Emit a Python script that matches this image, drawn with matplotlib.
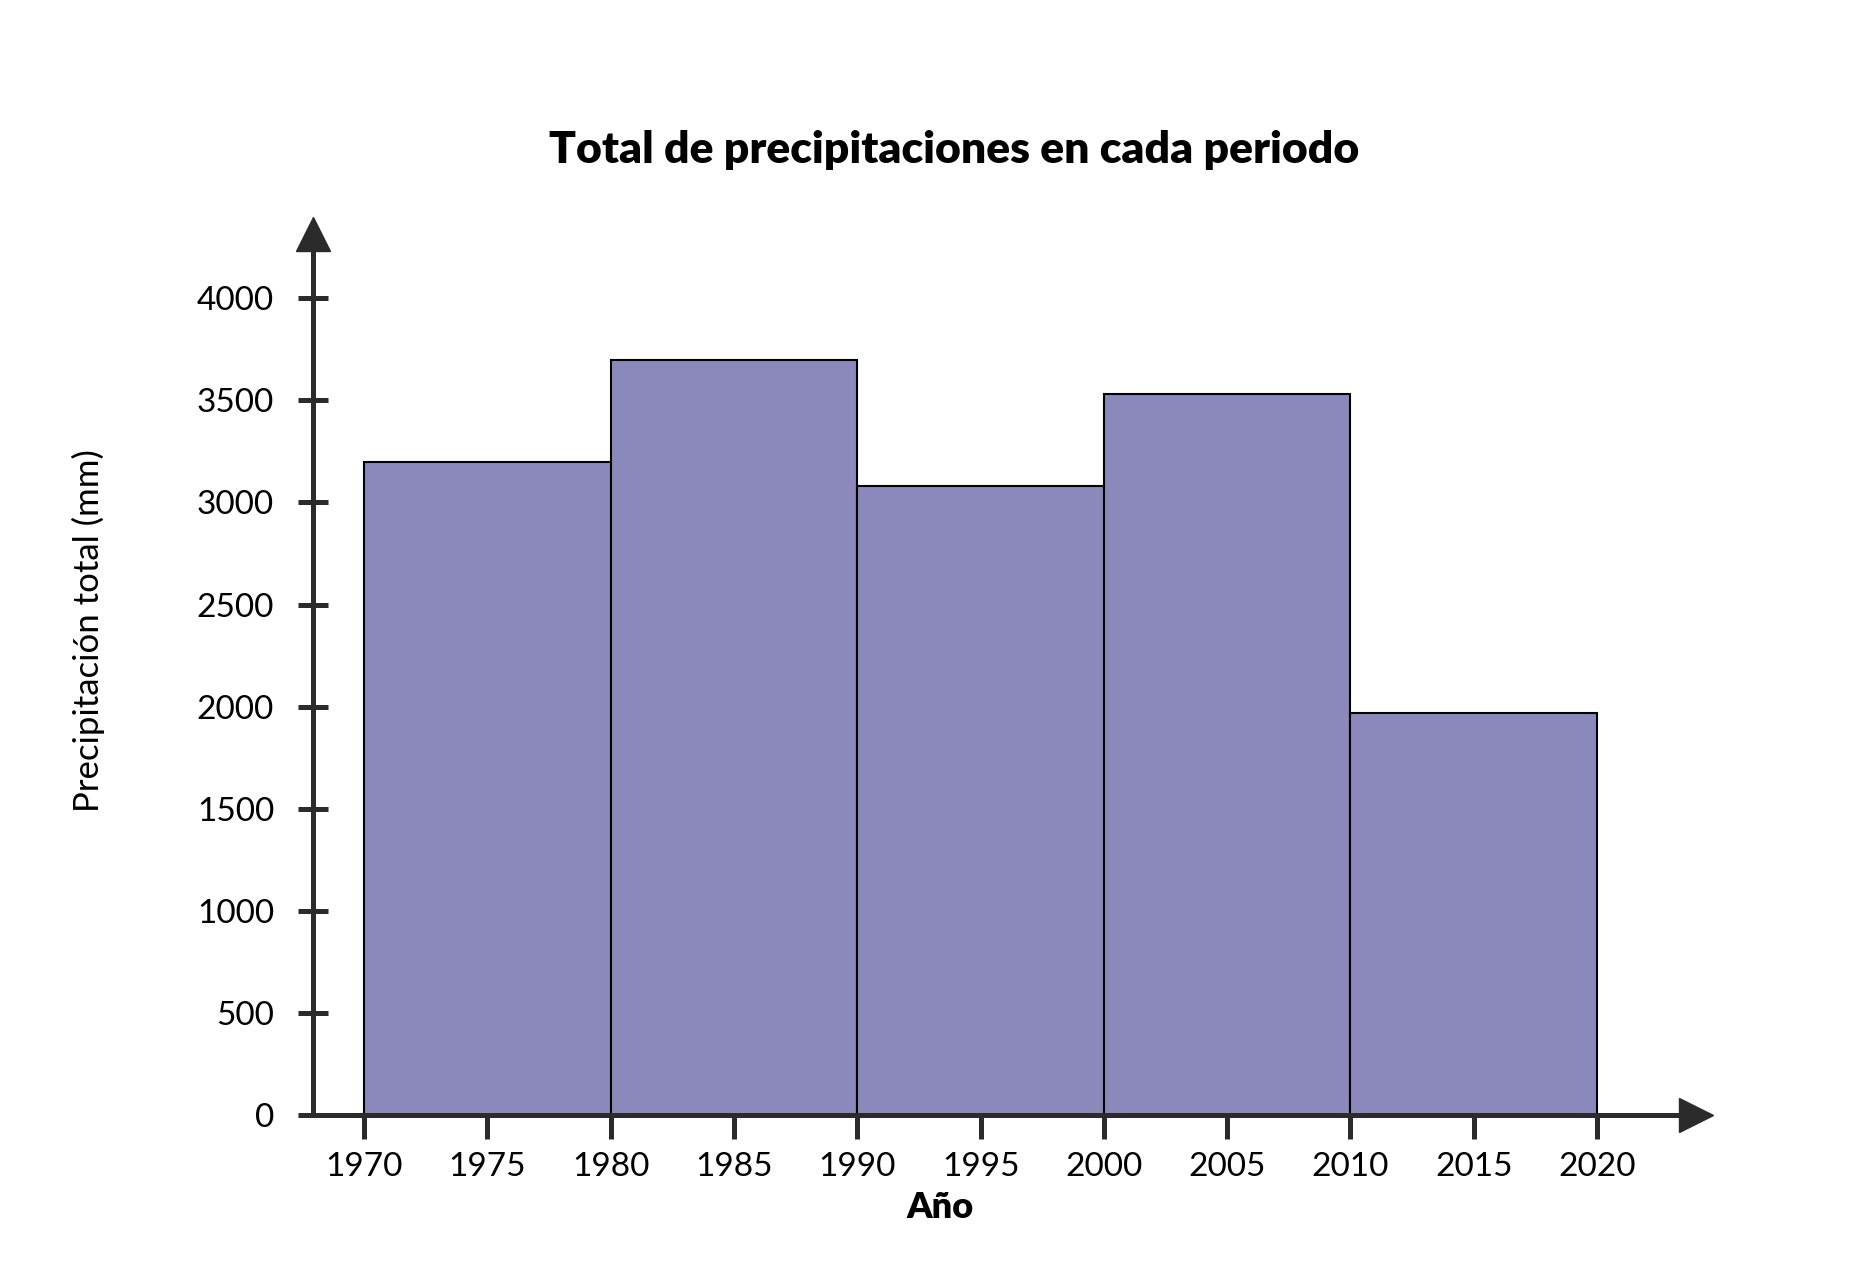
import matplotlib
matplotlib.use('Agg')
import matplotlib.pyplot as plt

plt.rcParams['font.family'] = ['Lato', 'DejaVu Sans']

# periods (start year of each 10-year bin) and total rainfall
period_start = [1970, 1980, 1990, 2000, 2010]
period_width = 10
rain_mm = [3200, 3700, 3080, 3530, 1970]
x_ticks = [1970, 1975, 1980, 1985, 1990, 1995, 2000, 2005, 2010, 2015, 2020]
y_ticks = [0, 500, 1000, 1500, 2000, 2500, 3000, 3500, 4000]

axis_col = '#2b2b2b'
bar_col = '#8b89bb'

fig = plt.figure(figsize=(18.5, 12.75), dpi=100)
ax = fig.add_axes([313/1850, 160/1275, 1400/1850, 898/1275])

ax.bar(period_start, rain_mm, width=period_width, align='edge',
       color=bar_col, edgecolor='black', linewidth=1.5, zorder=1)

ax.set_xlim(1967.93, 2024.7)
ax.set_ylim(0, 4398)

for s in ['top', 'right']:
    ax.spines[s].set_visible(False)
for s in ['left', 'bottom']:
    ax.spines[s].set_linewidth(3.6)
    ax.spines[s].set_color(axis_col)
    ax.spines[s].set_zorder(3)
    ax.spines[s].set_capstyle('butt')
ax.spines['bottom'].set_bounds(1967.93, 2023.5)
ax.spines['left'].set_bounds(0, 4250)

# arrow heads
ax.plot([2024.0], [0], marker='>', ms=25, color=axis_col, clip_on=False, zorder=4)
ax.plot([1967.93], [4313], marker='^', ms=25, color=axis_col, clip_on=False, zorder=4)

ax.set_xticks(x_ticks)
ax.set_yticks(y_ticks)
ax.tick_params(axis='x', direction='out', length=17, width=3.6, color=axis_col,
               labelsize=24, pad=10)
ax.tick_params(axis='y', direction='inout', length=22, width=3.6, color=axis_col,
               labelsize=24, pad=17)

fig.text(954/1850, 1 - 150/1275, 'Total de precipitaciones en cada periodo',
         ha='center', va='center', fontsize=32, fontweight='heavy')
fig.text(88/1850, 1 - 631/1275, 'Precipitación total (mm)', rotation=90,
         ha='center', va='center', fontsize=25)
fig.text(940/1850, 1 - 1207/1275, 'Año', ha='center', va='center',
         fontsize=26, fontweight='heavy')

plt.savefig('out.png', dpi=100)
